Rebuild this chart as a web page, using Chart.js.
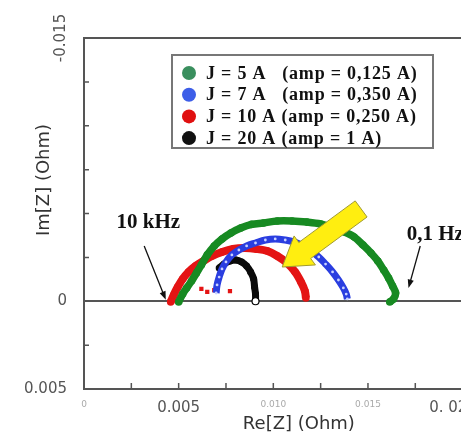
<!DOCTYPE html>
<html>
<head>
<meta charset="utf-8">
<script src="https://cdn.jsdelivr.net/npm/chart.js@4.4.0/dist/chart.umd.min.js"></script>
<style>
html, body { margin: 0; padding: 0; background: #fff; overflow: hidden; }
#wrap { width: 520px; height: 443px; }
</style>
</head>
<body>
<div id="wrap"><canvas id="nyquist" width="520" height="443"></canvas></div>
<script>
// Nyquist data, [Re(Z), Im(Z)] in Ohm
const seriesLabels = [
    'J = 5 A   (amp = 0,125 A)',
    'J = 7 A   (amp = 0,350 A)',
    'J = 10 A (amp = 0,250 A)',
    'J = 20 A (amp = 1 A)'
];
const seriesColors = ['#178a22', '#2a3ee0', '#e41414', '#0a0a0a'];
const legendColors = ['#3a8f5e', '#3d5ee8', '#e01010', '#111111'];

const j5A = [
    [0.00500, 0.00004], [0.00521, -0.00041], [0.00542, -0.00075], [0.00568, -0.00115],
    [0.00594, -0.00161], [0.00620, -0.00207], [0.00651, -0.00264], [0.00688, -0.00315],
    [0.00729, -0.00355], [0.00776, -0.00389], [0.00828, -0.00417], [0.00885, -0.00438],
    [0.00948, -0.00446], [0.01021, -0.00457], [0.01099, -0.00457], [0.01177, -0.00451],
    [0.01250, -0.00440], [0.01318, -0.00417], [0.01375, -0.00395], [0.01427, -0.00366],
    [0.01474, -0.00320], [0.01516, -0.00275], [0.01552, -0.00229], [0.01583, -0.00178],
    [0.01609, -0.00132], [0.01630, -0.00087], [0.01646, -0.00047], [0.01635, -0.00013],
    [0.01615, 0.00004]
];
const j7A = [
    [0.00698, -0.00047], [0.00703, -0.00093], [0.00714, -0.00138], [0.00729, -0.00184],
    [0.00750, -0.00224], [0.00781, -0.00264], [0.00818, -0.00292], [0.00859, -0.00315],
    [0.00906, -0.00332], [0.00958, -0.00349], [0.01010, -0.00355], [0.01063, -0.00349],
    [0.01109, -0.00338], [0.01156, -0.00315], [0.01198, -0.00286], [0.01240, -0.00252],
    [0.01276, -0.00212], [0.01313, -0.00167], [0.01344, -0.00121], [0.01370, -0.00076],
    [0.01385, -0.00041], [0.01391, -0.00013]
];
const j10A = [
    [0.00458, 0.00004], [0.00474, -0.00036], [0.00495, -0.00081], [0.00521, -0.00127],
    [0.00552, -0.00167], [0.00589, -0.00201], [0.00630, -0.00229], [0.00677, -0.00258],
    [0.00729, -0.00281], [0.00786, -0.00298], [0.00849, -0.00303], [0.00911, -0.00298],
    [0.00969, -0.00286], [0.01021, -0.00258], [0.01073, -0.00218], [0.01115, -0.00167],
    [0.01146, -0.00110], [0.01167, -0.00058], [0.01172, -0.00019]
];
// loose red points near the high-frequency end
const j10AStray = [[0.00620, -0.00070], [0.00651, -0.00053], [0.00688, -0.00064], [0.00771, -0.00058]];
const j20A = [
    [0.00714, -0.00189], [0.00740, -0.00212], [0.00771, -0.00229], [0.00802, -0.00235],
    [0.00833, -0.00224], [0.00859, -0.00201], [0.00880, -0.00167], [0.00896, -0.00127],
    [0.00901, -0.00081], [0.00906, -0.00041], [0.00906, 0.00000]
];

const xTickValues = [0, 0.0025, 0.005, 0.0075, 0.010, 0.0125, 0.015, 0.0175, 0.020, 0.0225];
const xTickLabels = ['0', '', '0.005', '', '0.010', '', '0.015', '', '0. 02      ', ''];
const yTickValues = [-0.015, -0.0125, -0.010, -0.0075, -0.005, -0.0025, 0, 0.0025, 0.005];
const yTickLabels = ['-0.015', '', '', '', '', '', '0', '', '0.005'];

const toPts = arr => arr.map(p => ({ x: p[0], y: p[1] }));

function arcSet(label, data, color, width, order) {
    return {
        label: label,
        data: toPts(data),
        order: order,
        showLine: true,
        tension: 0.35,
        borderColor: color,
        borderWidth: width,
        pointRadius: 3.8,
        pointBorderWidth: 0,
        pointBackgroundColor: color
    };
}

const datasets = [
    arcSet(seriesLabels[0], j5A, seriesColors[0], 7.5, 0),
    arcSet(seriesLabels[1], j7A, seriesColors[1], 7, 1),
    arcSet(seriesLabels[2], j10A, seriesColors[2], 8, 2),
    arcSet(seriesLabels[3], j20A, seriesColors[3], 7, 3)
];
// blue arc has light dots along it
datasets[1].pointRadius = 1.4;
datasets[1].pointBackgroundColor = '#c9d2ff';
// last black point is an open circle
datasets[3].pointRadius = ctx => ctx.dataIndex === j20A.length - 1 ? 3.5 : 3.5;
datasets[3].pointBackgroundColor = ctx => ctx.dataIndex === j20A.length - 1 ? '#ffffff' : seriesColors[3];
datasets[3].pointBorderWidth = ctx => ctx.dataIndex === j20A.length - 1 ? 1.2 : 0;
datasets[3].pointBorderColor = '#000';
datasets.push({
    label: 'stray',
    data: toPts(j10AStray),
    order: 4,
    showLine: false,
    pointStyle: 'rect',
    pointRadius: 3,
    pointBorderWidth: 0,
    pointBackgroundColor: seriesColors[2]
});

function arrowLine(ctx, x1, y1, x2, y2, head) {
    const a = Math.atan2(y2 - y1, x2 - x1);
    ctx.beginPath();
    ctx.moveTo(x1, y1);
    ctx.lineTo(x2 - Math.cos(a) * head * 0.6, y2 - Math.sin(a) * head * 0.6);
    ctx.stroke();
    ctx.beginPath();
    ctx.moveTo(x2, y2);
    ctx.lineTo(x2 - head * Math.cos(a - 0.35), y2 - head * Math.sin(a - 0.35));
    ctx.lineTo(x2 - head * Math.cos(a + 0.35), y2 - head * Math.sin(a + 0.35));
    ctx.closePath();
    ctx.fill();
}

function blockArrow(ctx, tx, ty, px, py, shaft, headW, headL) {
    const len = Math.hypot(px - tx, py - ty);
    const ux = (px - tx) / len, uy = (py - ty) / len;
    const nx = -uy, ny = ux;
    const bx = px - ux * headL, by = py - uy * headL;
    ctx.beginPath();
    ctx.moveTo(tx + nx * shaft, ty + ny * shaft);
    ctx.lineTo(bx + nx * shaft, by + ny * shaft);
    ctx.lineTo(bx + nx * headW, by + ny * headW);
    ctx.lineTo(px, py);
    ctx.lineTo(bx - nx * headW, by - ny * headW);
    ctx.lineTo(bx - nx * shaft, by - ny * shaft);
    ctx.lineTo(tx - nx * shaft, ty - ny * shaft);
    ctx.closePath();
    ctx.fill();
    ctx.stroke();
}

const decorPlugin = {
    id: 'decor',
    afterDraw(chart) {
        const { ctx, chartArea: a, scales: { x, y } } = chart;
        ctx.save();

        // frame top edge
        ctx.strokeStyle = '#555';
        ctx.lineWidth = 2;
        ctx.beginPath();
        ctx.moveTo(a.left, a.top);
        ctx.lineTo(a.right, a.top);
        ctx.stroke();

        // inward tick marks
        ctx.lineWidth = 1.5;
        ctx.beginPath();
        xTickValues.forEach(v => {
            if (v === 0) return;
            const px = x.getPixelForValue(v);
            ctx.moveTo(px, a.bottom);
            ctx.lineTo(px, a.bottom - 6);
        });
        yTickValues.forEach(v => {
            const py = y.getPixelForValue(v);
            ctx.moveTo(a.left, py);
            ctx.lineTo(a.left + 5, py);
        });
        ctx.stroke();

        // rotated top y label
        ctx.fillStyle = '#555';
        ctx.font = '15px "DejaVu Sans"';
        ctx.textAlign = 'center';
        ctx.textBaseline = 'middle';
        ctx.save();
        ctx.translate(61, y.getPixelForValue(yTickValues[0]));
        ctx.rotate(-Math.PI / 2);
        ctx.fillText(yTickLabels[0], 0, 0);
        ctx.restore();

        // y title
        ctx.save();
        ctx.fillStyle = '#333';
        ctx.font = '18px "DejaVu Sans"';
        ctx.translate(44, 180);
        ctx.rotate(-Math.PI / 2);
        ctx.fillText('Im[Z] (Ohm)', 0, 0);
        ctx.restore();

        // frequency notes
        ctx.fillStyle = '#111';
        ctx.strokeStyle = '#111';
        ctx.font = 'bold 21px "Liberation Serif"';
        ctx.textAlign = 'left';
        ctx.textBaseline = 'alphabetic';
        ctx.fillText('10 kHz', x.getPixelForValue(0.00172), y.getPixelForValue(-0.00417));
        ctx.fillText('0,1 Hz', x.getPixelForValue(0.01705), y.getPixelForValue(-0.00350));
        ctx.lineWidth = 1.3;
        arrowLine(ctx, x.getPixelForValue(0.00318), y.getPixelForValue(-0.00315),
            x.getPixelForValue(0.00432), y.getPixelForValue(-0.00008), 9);
        arrowLine(ctx, x.getPixelForValue(0.01776), y.getPixelForValue(-0.00315),
            x.getPixelForValue(0.01714), y.getPixelForValue(-0.00075), 9);

        // yellow block arrow
        ctx.fillStyle = '#ffee10';
        ctx.strokeStyle = '#a09a30';
        ctx.lineWidth = 1;
        blockArrow(ctx, x.getPixelForValue(0.01464), y.getPixelForValue(-0.00526),
            x.getPixelForValue(0.01047), y.getPixelForValue(-0.00195), 10, 18, 28);

        // legend box
        const lx = 172, ly = 55, lw = 261, lh = 93;
        ctx.fillStyle = '#fff';
        ctx.fillRect(lx, ly, lw, lh);
        ctx.strokeStyle = '#777';
        ctx.lineWidth = 2;
        ctx.strokeRect(lx, ly, lw, lh);
        ctx.font = 'bold 18px "Liberation Serif"';
        ctx.letterSpacing = '0.8px';
        ctx.textBaseline = 'middle';
        seriesLabels.forEach((lab, i) => {
            const ry = 73 + i * 21.7;
            ctx.beginPath();
            ctx.arc(189, ry, 7, 0, Math.PI * 2);
            ctx.fillStyle = legendColors[i];
            ctx.fill();
            ctx.fillStyle = '#111';
            ctx.fillText(lab, 206, ry + 1);
        });

        ctx.restore();
    }
};

new Chart(document.getElementById('nyquist'), {
    type: 'scatter',
    data: { datasets: datasets },
    options: {
        responsive: false,
        animation: false,
        layout: { padding: { top: 38, left: 0, right: 0, bottom: 0 } },
        plugins: { legend: { display: false }, tooltip: { enabled: false } },
        scales: {
            x: {
                type: 'linear',
                min: 0,
                max: 0.0227,
                afterBuildTicks: s => { s.ticks = xTickValues.map(v => ({ value: v })); },
                afterFit: s => { s.height = 54; },
                grid: { display: false, drawTicks: false },
                border: { color: '#555', width: 2 },
                ticks: {
                    padding: 10,
                    maxRotation: 0,
                    autoSkip: false,
                    callback: (v, i) => xTickLabels[i],
                    color: c => (c.index === 2 || c.index === 8) ? '#555' : '#aaa',
                    font: c => (c.index === 2 || c.index === 8)
                        ? { family: 'DejaVu Sans', size: 15 }
                        : { family: 'DejaVu Sans', size: 9 }
                },
                title: {
                    display: true,
                    text: 'Re[Z] (Ohm)',
                    color: '#333',
                    font: { family: 'DejaVu Sans', size: 18 },
                    padding: { top: 0, bottom: 8 }
                }
            },
            y: {
                type: 'linear',
                reverse: true,
                min: -0.015,
                max: 0.005,
                afterBuildTicks: s => { s.ticks = yTickValues.map(v => ({ value: v })); },
                afterFit: s => { s.width = 84; },
                grid: {
                    drawTicks: false,
                    color: c => (c.tick && c.tick.value === 0) ? '#555' : 'rgba(0,0,0,0)',
                    lineWidth: 2
                },
                border: { color: '#555', width: 2 },
                ticks: {
                    padding: 17,
                    autoSkip: false,
                    callback: (v, i) => i === 0 ? '' : yTickLabels[i],
                    color: '#555',
                    font: { family: 'DejaVu Sans', size: 15 }
                }
            }
        }
    },
    plugins: [decorPlugin]
});
</script>
</body>
</html>
